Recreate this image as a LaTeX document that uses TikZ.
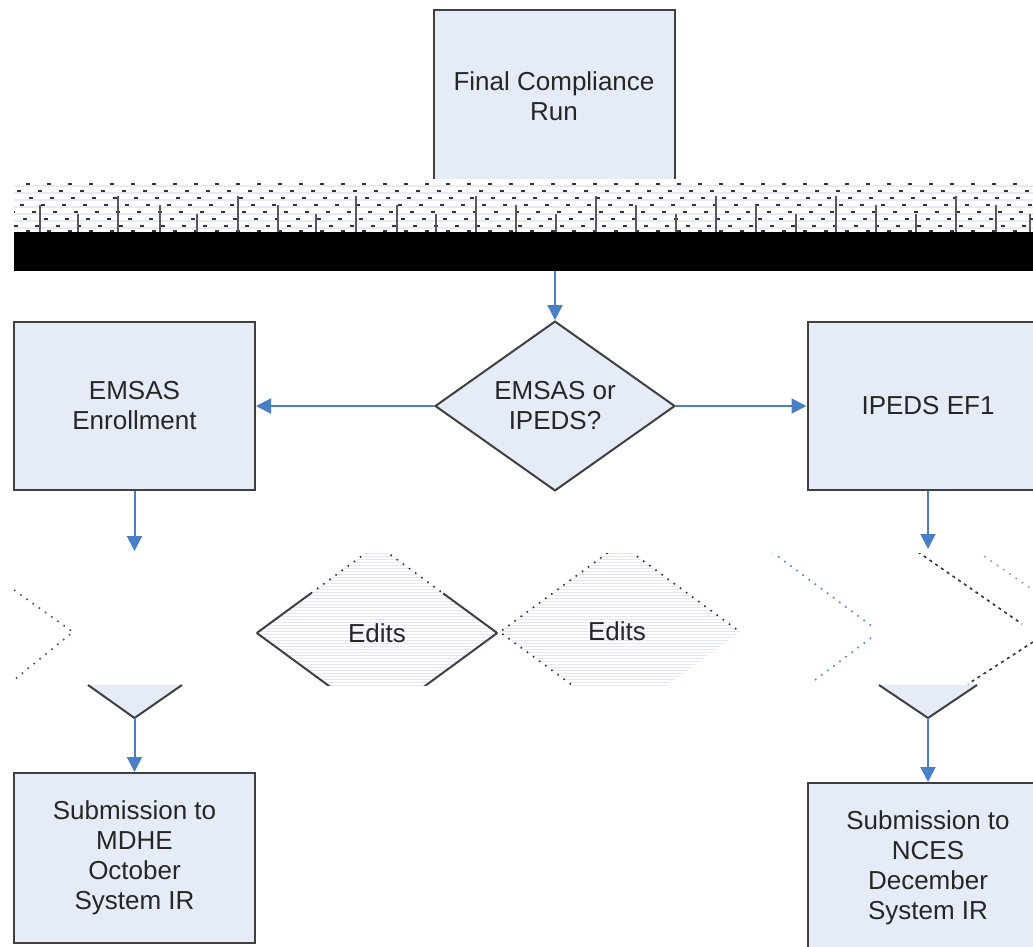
\documentclass[tikz,border=0pt]{standalone}
\usepackage{fontspec}
\setmainfont{Liberation Sans}
\usetikzlibrary{shapes.geometric,arrows.meta,patterns,calc}
\definecolor{boxfill}{RGB}{230,236,247}
\definecolor{boxline}{RGB}{64,64,64}
\definecolor{arrowblue}{RGB}{74,126,199}
\begin{document}
\begin{tikzpicture}[x=1pt,y=-1pt,
  lbl/.style={font=\fontsize{26}{30}\selectfont, text=black!85, align=center},
  box/.style={lbl, draw=boxline, line width=2pt, fill=boxfill, minimum width=241pt, minimum height=168pt, inner sep=0pt},
  dia/.style={lbl, diamond, draw=boxline, line width=2pt, fill=boxfill, minimum width=240pt, minimum height=168pt, inner sep=0pt},
  arr/.style={draw=arrowblue, line width=2pt, -{Triangle[length=15pt,width=15pt]}},
  dots/.style={line width=1.6pt, dash pattern=on 1.6pt off 6pt},
  edge/.style={draw=boxline, line width=2pt}]
\clip (0,0) rectangle (1033,947);
\fill[white] (0,0) rectangle (1033,947);

% top box
\node[box, minimum height=172pt] (final) at (554,96) {Final Compliance\\Run};

% noise band
\fill[white] (0,179) rectangle (1033,232);
\foreach \y in {184,191,198,205,212,219,226} \draw[boxfill, line width=1.5pt] (14,\y+2) -- (1033,\y+2);
\foreach \y [count=\i] in {184,191,198,205,212,219,226,231}
  \draw[black!80, line width=1.5pt, dash pattern=on 4pt off 17pt, dash phase=\i*9pt] (14,\y) -- (1033,\y);
\foreach \x [count=\i] in {40,78,118,160,197,238,278,316,356,397,436,476,516,556,596,636,676,716,756,796,836,876,916,956,996,1030}
  \draw[black!65, line width=1.6pt] (\x,{196+mod(\i,3)*9}) -- (\x,232);

% black band
\node[fill=black, minimum width=1019pt, minimum height=39pt, inner sep=0pt, anchor=north west] (band) at (14,232) {};

% decision
\node[dia] (dec) at (555,406) {EMSAS or\\IPEDS?};
\draw[arr] (band.south -| dec.north) -- (dec.north);

\node[box] (emsas) at (134.5,406) {EMSAS\\Enrollment};
\node[box] (ipeds) at (928,406) {IPEDS EF1};
\draw[arr] (dec.west) -- (emsas.east);
\draw[arr] (dec.east) -- (ipeds.west);

\coordinate (lend) at (134.5,551);
\coordinate (rend) at (928,549);
\draw[arr] (emsas.south) -- (lend);
\draw[arr] (ipeds.south) -- (rend);

% glitched middle band
\begin{scope}
\clip (0,553) rectangle (1033,685);
\node[diamond, pattern=horizontal lines, pattern color=boxfill!70!blue!30, minimum width=240pt, minimum height=176pt, inner sep=0pt] (ed1) at (377,633) {};
\draw[edge] (ed1.west) -- (ed1.south) -- (ed1.east);
\draw[edge] (ed1.west) -- ($(ed1.west)!0.45!(ed1.north)$);
\draw[edge] (ed1.east) -- ($(ed1.east)!0.45!(ed1.north)$);
\draw[black!80, dots] ($(ed1.west)!0.45!(ed1.north)$) -- (ed1.north) -- ($(ed1.east)!0.45!(ed1.north)$);
\node[diamond, pattern=horizontal lines, pattern color=boxfill!80!blue!40, minimum width=240pt, minimum height=176pt, inner sep=0pt] (ed2) at (620,632) {};
\draw[black!80, dots] (ed2.south) -- (ed2.west) -- (ed2.north) -- (ed2.east);
\draw[black!70, dots] (14,590) -- (73,632) -- (14,680);
\draw[arrowblue, dots] (772,552) -- (873,627);
\draw[arrowblue, dots] (871,638) -- (815,680);
\draw[black!80, dots, dash pattern=on 3pt off 4pt] (918,552) -- (1022,624);
\draw[black!80, dots, dash pattern=on 3pt off 4pt] (1033,642) -- (968,684);
\draw[black!40, dots] (978,552) -- (1033,590);
\end{scope}
\node[lbl] at (377,633) {Edits};
\node[lbl] at (617,631) {Edits};

% triangles (lower tips of diamonds)
\coordinate (ltip) at (134.5,718);
\coordinate (rtip) at (928,718);
\fill[boxfill] (88,685) -- (ltip) -- (182,685) -- cycle;
\draw[edge] (88,685) -- (ltip) -- (182,685);
\fill[boxfill] (879,685) -- (rtip) -- (977,685) -- cycle;
\draw[edge] (879,685) -- (rtip) -- (977,685);

% submissions
\node[box, minimum height=170pt] (mdhe) at (134.5,858) {Submission to\\MDHE\\October\\System IR};
\node[box, minimum height=170pt] (nces) at (928,868) {Submission to\\NCES\\December\\System IR};
\draw[arr] (ltip) -- (mdhe.north);
\draw[arr] (rtip) -- (nces.north);
\end{tikzpicture}
\end{document}
